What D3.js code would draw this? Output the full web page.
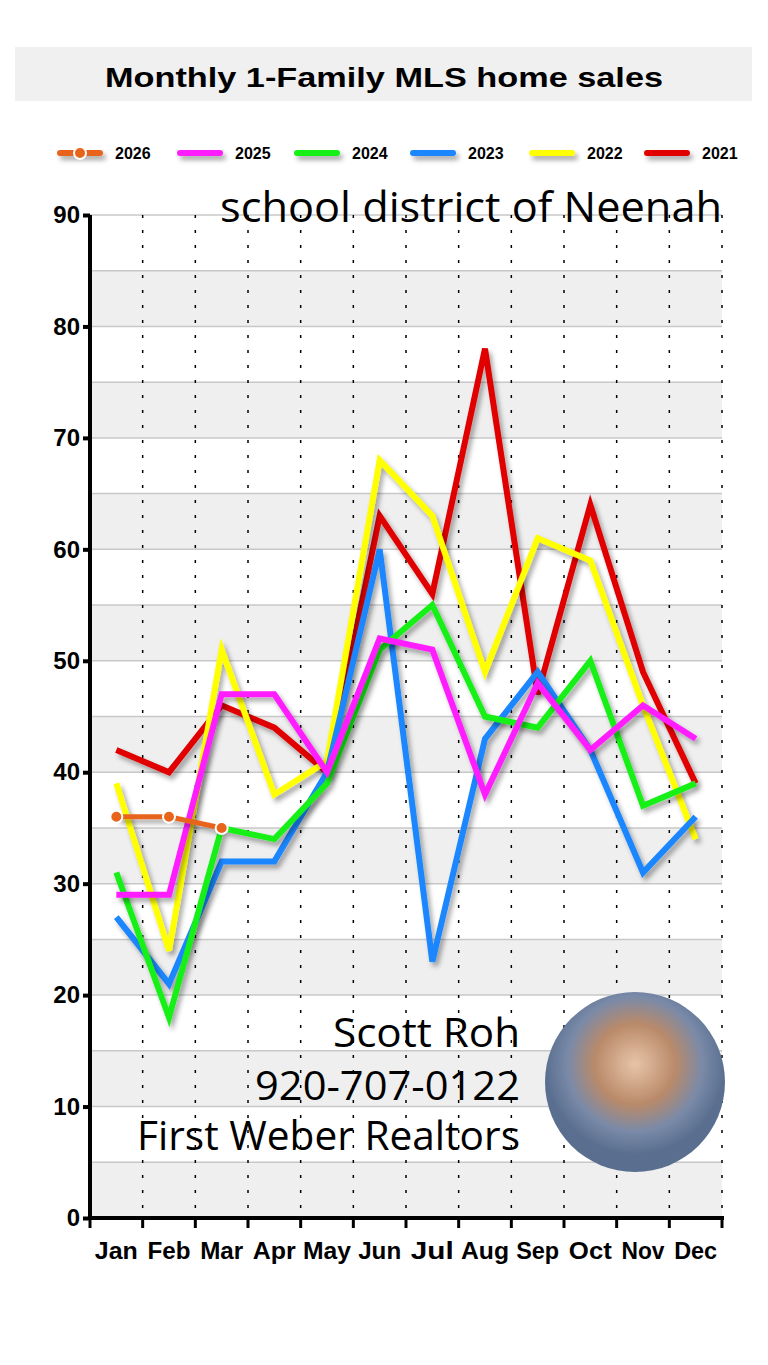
<!DOCTYPE html>
<html><head><meta charset="utf-8">
<script src="https://cdn.jsdelivr.net/npm/d3@7"></script>
<style>body{margin:0;background:#fff}</style>
</head><body><svg id="c" width="768" height="1365"></svg>
<script>
const months=["Jan","Feb","Mar","Apr","May","Jun","Jul","Aug","Sep","Oct","Nov","Dec"];
const years=["2026","2025","2024","2023","2022","2021"];
const colors=["#e8641b","#ff1cff","#19f019","#1a86ff","#ffff00","#e00000"];
const s2026=[36,36,35];
const s2025=[29,29,47,47,40,52,51,38,48,42,46,43];
const s2024=[31,18,35,34,39,51,55,45,44,50,37,39];
const s2023=[27,21,32,32,40,60,23,43,49,42,31,36];
const s2022=[39,24,51,38,41,68,63,49,61,59,46,34];
const s2021=[42,40,46,44,40,63,56,78,47,64,49,39];
const yTicks=[0,10,20,30,40,50,60,70,80,90];

const svg=d3.select("#c");
const defs=svg.append("defs");
const f=defs.append("filter").attr("id","sh").attr("filterUnits","userSpaceOnUse").attr("x",0).attr("y",0).attr("width",768).attr("height",1365);
f.append("feDropShadow").attr("dx",3).attr("dy",4).attr("stdDeviation",2.5).attr("flood-color","#000").attr("flood-opacity",0.35);

svg.append("rect").attr("x",15).attr("y",47).attr("width",737).attr("height",54).attr("fill","#f0f0f0");
svg.append("text").attr("x",105).attr("y",87).attr("font-family","Liberation Sans, Arial").attr("font-weight","bold").attr("font-size",28).attr("textLength",558).attr("lengthAdjust","spacingAndGlyphs").text("Monthly  1-Family MLS home sales");

const L=90,R=722,T=215,B=1218;
const x=d3.scaleBand().domain(months).range([L,R]);
const y=d3.scaleLinear().domain([0,90]).range([B,T]);
const g=svg.append("g");
for(let v=0;v<90;v+=10){g.append("rect").attr("x",L).attr("width",R-L).attr("y",y(v+5)).attr("height",y(v)-y(v+5)).attr("fill","#efefef");}
for(let v=5;v<=90;v+=5){g.append("line").attr("x1",L).attr("x2",R).attr("y1",y(v)).attr("y2",y(v)).attr("stroke","#c8c8c8").attr("stroke-width",1.5);}
months.forEach((m,i)=>{const xx=x(m)+x.bandwidth();g.append("line").attr("x1",xx).attr("x2",xx).attr("y1",T).attr("y2",B).attr("stroke","#000").attr("stroke-width",1.5).attr("stroke-dasharray","3,12");});

svg.append("text").attr("x",220).attr("y",222).attr("font-family","Open Sans").attr("font-size",42).attr("textLength",502).attr("lengthAdjust","spacingAndGlyphs").text("school district of Neenah");

const it=svg.append("g").attr("font-family","Open Sans").attr("font-size",40);
it.append("text").attr("x",333).attr("y",1047).attr("textLength",187).attr("lengthAdjust","spacingAndGlyphs").text("Scott Roh");
it.append("text").attr("x",255).attr("y",1100).attr("textLength",265).attr("lengthAdjust","spacingAndGlyphs").text("920-707-0122");
it.append("text").attr("x",137).attr("y",1150).attr("textLength",383).attr("lengthAdjust","spacingAndGlyphs").text("First Weber Realtors");
const rg=defs.append("radialGradient").attr("id","ph").attr("cx","50%").attr("cy","40%");
rg.append("stop").attr("offset","0%").attr("stop-color","#e8c4a8");
rg.append("stop").attr("offset","45%").attr("stop-color","#b98a6a");
rg.append("stop").attr("offset","75%").attr("stop-color","#7a8aa8");
rg.append("stop").attr("offset","100%").attr("stop-color","#5a6f90");
svg.append("ellipse").attr("cx",635).attr("cy",1082).attr("rx",90).attr("ry",90).attr("fill","url(#ph)");

const line=d3.line().x((d,i)=>x(months[i])+x.bandwidth()/2).y(d=>y(d));
const series=[s2026,s2025,s2024,s2023,s2022,s2021];
for(let k=series.length-1;k>=0;k--){
  svg.append("path").datum(series[k]).attr("d",line).attr("fill","none").attr("stroke",colors[k]).attr("stroke-width",k==0?5:6).attr("filter","url(#sh)");
}
s2026.forEach((v,i)=>svg.append("circle").attr("cx",x(months[i])+x.bandwidth()/2).attr("cy",y(v)).attr("r",6).attr("fill",colors[0]).attr("stroke","#fff").attr("stroke-width",2));

const ya=svg.append("g").attr("transform",`translate(${L},0)`).call(d3.axisLeft(y).tickValues(yTicks).tickSize(7).tickFormat(d3.format("d")));
ya.select(".domain").attr("stroke-width",4).attr("d",`M0,${T}V${B}`);
ya.selectAll(".tick line").attr("stroke-width",4);
ya.selectAll("text").attr("font-family","Liberation Sans").attr("font-weight","bold").attr("font-size",24).attr("x",-10).attr("fill","#000");
const xa=svg.append("g").attr("transform",`translate(0,${B})`);
xa.append("line").attr("x1",L-2).attr("x2",R+2).attr("stroke","#000").attr("stroke-width",4);
[L].concat(months.map(m=>x(m)+x.bandwidth())).forEach(xx=>xa.append("line").attr("x1",xx).attr("x2",xx).attr("y1",0).attr("y2",10).attr("stroke","#000").attr("stroke-width",3));
months.forEach(m=>xa.append("text").attr("x",x(m)+x.bandwidth()/2).attr("y",41).attr("text-anchor","middle").attr("font-family","Liberation Sans").attr("font-weight","bold").attr("font-size",24).attr("textLength",m=="May"||m=="Aug"?48:43).attr("lengthAdjust","spacingAndGlyphs").text(m));

const lg=svg.append("g").attr("font-family","Liberation Sans").attr("font-weight","bold").attr("font-size",16);
const lx=[60,180,297,413,532,647];
years.forEach((yr,i)=>{
  lg.append("line").attr("x1",lx[i]).attr("x2",lx[i]+40).attr("y1",153).attr("y2",153).attr("stroke",colors[i]).attr("stroke-width",6).attr("stroke-linecap","round").attr("filter","url(#sh)");
  if(i==0) lg.append("circle").attr("cx",lx[i]+20).attr("cy",153).attr("r",6).attr("fill",colors[0]).attr("stroke","#fff").attr("stroke-width",2);
  lg.append("text").attr("x",lx[i]+55).attr("y",159).text(yr);
});
</script></body></html>
